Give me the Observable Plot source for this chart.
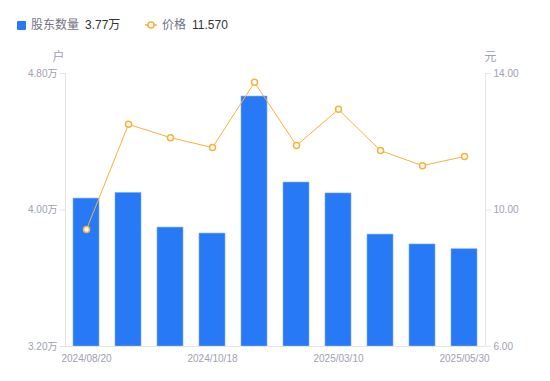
<!DOCTYPE html>
<html><head><meta charset="utf-8">
<script src="https://cdn.jsdelivr.net/npm/d3@7"></script>
<script src="https://cdn.jsdelivr.net/npm/@observablehq/plot@0.6"></script>
<style>
body{margin:0;background:#fff;font-family:"Liberation Sans","Noto Sans CJK SC",sans-serif;}
#wrap{width:550px;height:381px;position:relative;}
#legend{height:48px;position:relative;font-size:12px;}
.item{position:absolute;top:18px;display:flex;align-items:center;white-space:nowrap;line-height:14px;}
.lab{color:#737385;}
.val{color:#333;margin-left:6px;}
</style></head><body>
<div id="wrap">
<div id="legend">
  <div class="item" style="left:17px"><span style="display:inline-block;width:9px;height:9px;background:#2879f5;border-radius:1px;margin-right:5px"></span><span class="lab">股东数量</span><span class="val">3.77万</span></div>
  <div class="item" style="left:145px"><svg width="12" height="10" style="margin-right:5px"><line x1="0" y1="5" x2="12" y2="5" stroke="#f7b13d" stroke-width="1.5"/><circle cx="6" cy="5" r="3" fill="#fff" stroke="#f7b13d" stroke-width="1.5"/></svg><span class="lab">价格</span><span class="val">11.570</span></div>
</div>
<div id="chart"></div>
</div>
<script>
const dates = ["2024/08/20","2024/09/10","2024/09/30","2024/10/18","2024/10/31","2024/12/31","2025/03/10","2025/03/31","2025/04/30","2025/05/30"];
const holders = [4.067, 4.10, 3.897, 3.862, 4.665, 4.161, 4.097, 3.856, 3.798, 3.77];
const prices = [9.43, 12.51, 12.12, 11.83, 13.74, 11.89, 12.95, 11.74, 11.30, 11.57];
const xTicks = ["2024/08/20","2024/10/18","2025/03/10","2025/05/30"];
const leftTicks = [3.2, 4.0, 4.8];
const rightTicks = [6, 10, 14];

const yMin = 3.2, yMax = 4.8, pMin = 6, pMax = 14;
const toY = p => yMin + (p - pMin) / (pMax - pMin) * (yMax - yMin);
const data = dates.map((d, i) => ({date: d, holders: holders[i], price: prices[i], py: toY(prices[i])}));

const gray = "#a0a0b0", axisColor = "#e3e3ea";
const W = 550, ML = 65, MR = 65, half = (W - ML - MR) / 2;
const chart = Plot.plot({
  width: W, height: 333,
  marginTop: 25, marginBottom: 35, marginLeft: ML, marginRight: MR,
  style: {fontFamily: "'Liberation Sans','Noto Sans CJK SC',sans-serif", fontSize: "10px", color: gray, background: "#fff"},
  x: {type: "band", domain: dates, paddingInner: 0.38, paddingOuter: 0.19},
  y: {domain: [yMin, yMax]},
  marks: [
    Plot.barY(data, {x: "date", y1: yMin, y2: "holders", fill: "#2879f5", stroke: "#7eaef8", strokeWidth: 0.6}),
    Plot.ruleY([yMin], {stroke: axisColor}),
    Plot.ruleX([0], {x: null, y1: yMin, y2: yMax, dx: -half, stroke: axisColor}),
    Plot.ruleX([0], {x: null, y1: yMin, y2: yMax, dx: half, stroke: axisColor}),
    Plot.axisX({ticks: xTicks, tickSize: 0, tickPadding: 8, fill: gray, fontSize: 10, label: null}),
    Plot.axisY({anchor: "left", ticks: leftTicks, tickSize: 5, tickPadding: 3, stroke: axisColor, fill: gray, fontSize: 10,
      tickFormat: d => d.toFixed(2) + "万", label: null}),
    Plot.axisY({anchor: "right", ticks: rightTicks.map(toY), tickSize: 5, tickPadding: 3, stroke: axisColor, fill: gray, fontSize: 10,
      tickFormat: (d, i) => rightTicks[i].toFixed(2), label: null}),
    Plot.lineY(data, {x: "date", y: "py", stroke: "#f7b13d", strokeWidth: 1}),
    Plot.dot(data, {x: "date", y: "py", r: 3, fill: "#fff", stroke: "#f7b13d", strokeWidth: 1.5}),
    Plot.text(["户"], {frameAnchor: "top-left", textAnchor: "middle", lineAnchor: "middle", dx: -7, dy: -16, fill: gray, fontSize: 12}),
    Plot.text(["元"], {frameAnchor: "top-right", textAnchor: "middle", lineAnchor: "middle", dx: 5, dy: -16, fill: gray, fontSize: 12})
  ]
});
document.getElementById("chart").appendChild(chart);
</script>
</body></html>
